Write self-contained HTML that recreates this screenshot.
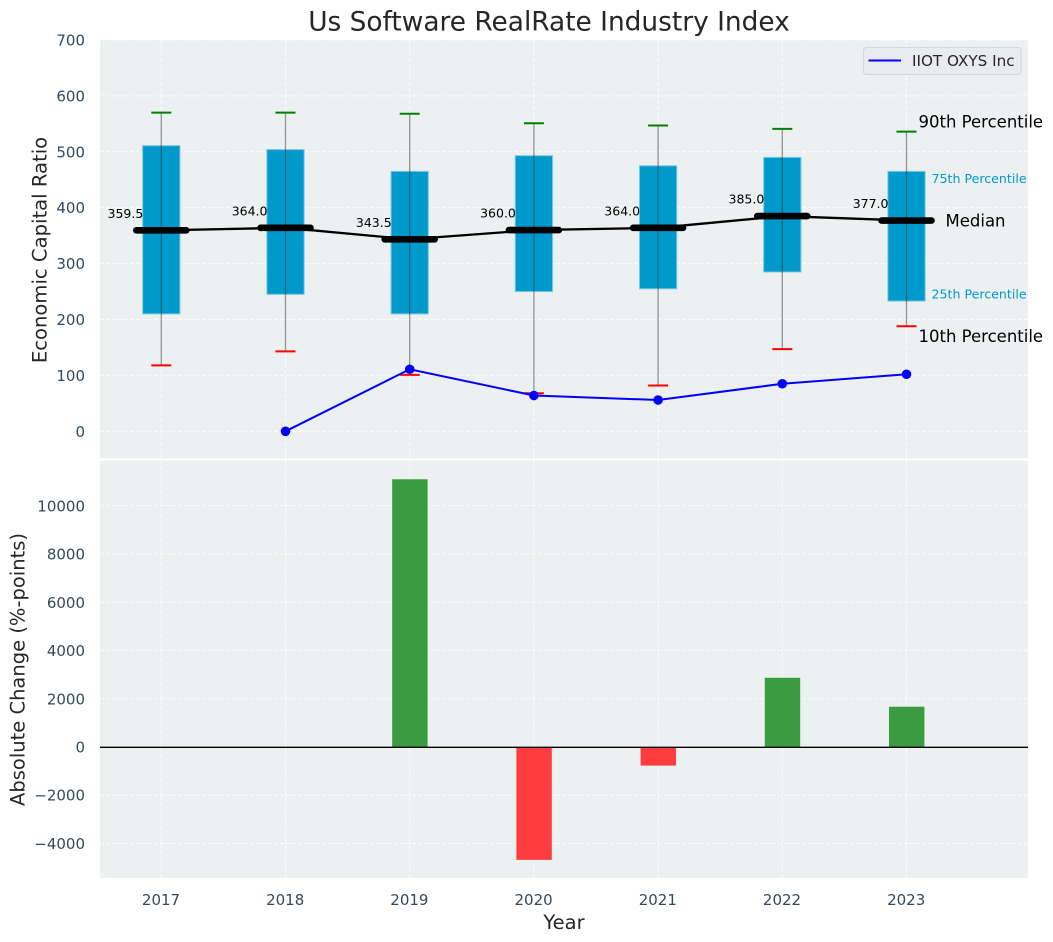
<!DOCTYPE html>
<html>
<head>
<meta charset="utf-8">
<title>Us Software RealRate Industry Index</title>
<style>
html,body{margin:0;padding:0;background:#fff;}
svg{display:block;font-family:"DejaVu Sans","Liberation Sans",sans-serif;}
</style>
</head>
<body>
<svg id="chart" width="1053" height="942" viewBox="0 0 1053 942" xmlns="http://www.w3.org/2000/svg">
  <rect x="100" y="40" width="928" height="418.5" fill="#ecf0f1"/>
  <rect x="100" y="460.5" width="928" height="417.5" fill="#ecf0f1"/>
  <g id="grid"></g>
  <g id="marks"></g>
  <g id="labels"></g>
  <text x="549" y="30.5" text-anchor="middle" font-size="26.4" fill="#262626">Us Software RealRate Industry Index</text>
  <text transform="translate(46.5,250) rotate(-90)" text-anchor="middle" font-size="19.6" fill="#262626">Economic Capital Ratio</text>
  <text transform="translate(24.5,669.5) rotate(-90)" text-anchor="middle" font-size="19.5" fill="#262626">Absolute Change (%-points)</text>
  <text x="564" y="929" text-anchor="middle" font-size="19.5" fill="#262626">Year</text>
  <g>
    <rect x="863.5" y="47.5" width="157.5" height="27" rx="3" fill="#eaebf0" stroke="#d4d6dc" stroke-width="1"/>
    <line x1="868.5" x2="901" y1="60.5" y2="60.5" stroke="#0000ff" stroke-width="2"/>
    <text x="912" y="66" font-size="15.2" fill="#262626">IIOT OXYS Inc</text>
  </g>
</svg>
<script>
const years = [2017, 2018, 2019, 2020, 2021, 2022, 2023];
const p10 = [118, 143, 101, 68, 82, 147, 188];
const p25 = [210, 245, 210, 250, 255, 285, 233];
const medians = [359.5, 364.0, 343.5, 360.0, 364.0, 385.0, 377.0];
const p75 = [511, 504, 465, 493, 475, 490, 465];
const p90 = [570, 570, 568, 551, 547, 541, 536];
const companyValues = [null, 0, 111, 64, 56, 85, 102];
const changeValues = [null, null, 11100, -4680, -770, 2870, 1670];
const topTicks = [0, 100, 200, 300, 400, 500, 600, 700];
const bottomTicks = [-4000, -2000, 0, 2000, 4000, 6000, 8000, 10000];

const NS = 'http://www.w3.org/2000/svg';
const gridG = document.getElementById('grid');
const marksG = document.getElementById('marks');
const labelsG = document.getElementById('labels');

function xScale(year) { return 161.3 + (year - 2017) * 124.2; }
function yTop(v) { return 431.3 - v * 0.559; }
function yBottom(v) { return 747 - v * 0.02412; }

function make(tag, parent, attrs, text) {
  const node = document.createElementNS(NS, tag);
  for (const key in attrs) node.setAttribute(key, attrs[key]);
  if (text !== undefined) node.textContent = text;
  parent.appendChild(node);
  return node;
}
function formatTick(v) { return v < 0 ? '\u2212' + Math.abs(v) : String(v); }

/* grid lines and ticks */
years.forEach(function (year) {
  const x = xScale(year);
  let el = make('line', gridG, { x1: x, x2: x, y1: 40, y2: 458.5, stroke: '#ffffff', 'stroke-width': 1, 'stroke-dasharray': '4 2', opacity: 0.85 });
  
  
  el = make('line', gridG, { x1: x, x2: x, y1: 460.5, y2: 878, stroke: '#ffffff', 'stroke-width': 1, 'stroke-dasharray': '4 2', opacity: 0.85 });
  
  
  el = make('text', labelsG, { x: x - 0.3, y: 905, 'text-anchor': 'middle', 'font-size': 15, fill: '#34495e' }, String(year));
  
  
});
topTicks.forEach(function (v) {
  const y = yTop(v);
  let el = make('line', gridG, { x1: 100, x2: 1028, y1: y, y2: y, stroke: '#ffffff', 'stroke-width': 1, 'stroke-dasharray': '4 2', opacity: 0.85 });
  
  
  el = make('text', labelsG, { x: 85, y: y + 5.5, 'text-anchor': 'end', 'font-size': 15, fill: '#34495e' }, formatTick(v));
  
  
});
bottomTicks.forEach(function (v) {
  const y = yBottom(v);
  let el = make('line', gridG, { x1: 100, x2: 1028, y1: y, y2: y, stroke: '#ffffff', 'stroke-width': 1, 'stroke-dasharray': '4 2', opacity: 0.85 });
  
  
  el = make('text', labelsG, { x: 85, y: y + 5.5, 'text-anchor': 'end', 'font-size': 15, fill: '#34495e' }, formatTick(v));
  
  
});

/* boxes and whiskers */
const boxW = 0.3 * 124.2;
years.forEach(function (year, i) {
  const x = xScale(year);
  let el = make('rect', marksG, { x: x - boxW / 2, y: yTop(p75[i]), width: boxW, height: yTop(p25[i]) - yTop(p75[i]), fill: '#0099cc', stroke: '#7cc8e0', 'stroke-width': 1 });
  
  
  el = make('line', marksG, { x1: x, x2: x, y1: yTop(p90[i]), y2: yTop(p10[i]), stroke: '#333333', 'stroke-width': 1.3, opacity: 0.5 });
  
  
  el = make('line', marksG, { x1: x - 10, x2: x + 10, y1: yTop(p90[i]), y2: yTop(p90[i]), stroke: '#008000', 'stroke-width': 2 });
  
  
  el = make('line', marksG, { x1: x - 10, x2: x + 10, y1: yTop(p10[i]), y2: yTop(p10[i]), stroke: '#ff0000', 'stroke-width': 2 });
  
  
});

/* median trend line and thick median markers */
const medianPoints = years.map(function (year, i) { return xScale(year) + ',' + yTop(medians[i]); }).join(' ');
const medianLine = make('polyline', marksG, { points: medianPoints, fill: 'none', stroke: '#000000', 'stroke-width': 2.3 });


years.forEach(function (year, i) {
  const x = xScale(year);
  const y = yTop(medians[i]);
  let el = make('line', marksG, { x1: x - 25, x2: x + 25, y1: y, y2: y, stroke: '#000000', 'stroke-width': 6.6, 'stroke-linecap': 'round' });
  
  
  el = make('text', labelsG, { x: x - 18, y: y - 12.5, 'text-anchor': 'end', 'font-size': 12.5, fill: '#000000' }, medians[i].toFixed(1));
  
  
});

/* company series */
const companyPoints = [];
years.forEach(function (year, i) {
  if (companyValues[i] !== null) companyPoints.push(xScale(year) + ',' + yTop(companyValues[i]));
});
const companyLine = make('polyline', marksG, { points: companyPoints.join(' '), fill: 'none', stroke: '#0000ff', 'stroke-width': 2 });


years.forEach(function (year, i) {
  if (companyValues[i] === null) return;
  const dot = make('circle', marksG, { cx: xScale(year), cy: yTop(companyValues[i]), r: 4.8, fill: '#0000ff' });
  
  
});

/* change bars */
const barW = 0.285 * 124.2;
years.forEach(function (year, i) {
  const v = changeValues[i];
  if (v === null) return;
  const top = Math.min(yBottom(v), yBottom(0));
  const bar = make('rect', marksG, { x: xScale(year) - barW / 2 + 0.2, y: top, width: barW, height: Math.abs(yBottom(v) - yBottom(0)), fill: v >= 0 ? '#3a9c3e' : '#ff3c3e' });
  
  
});
const zeroLine = make('line', marksG, { x1: 100, x2: 1028, y1: yBottom(0) + 0.3, y2: yBottom(0) + 0.3, stroke: '#000000', 'stroke-width': 1.4 });



/* annotations for the last year */
const last = years.length - 1;
const lastX = xScale(years[last]);
let note = make('text', labelsG, { x: lastX + 12, y: yTop(p90[last]) - 4, 'font-size': 16.5, fill: '#000000' }, '90th Percentile');


note = make('text', labelsG, { x: lastX + 25, y: yTop(p75[last]) + 11.5, 'font-size': 12.6, fill: '#0099cc' }, '75th Percentile');


note = make('text', labelsG, { x: lastX + 39, y: yTop(medians[last]) + 6, 'font-size': 16.5, fill: '#000000' }, 'Median');


note = make('text', labelsG, { x: lastX + 25, y: yTop(p25[last]) - 2.5, 'font-size': 12.6, fill: '#0099cc' }, '25th Percentile');


note = make('text', labelsG, { x: lastX + 12, y: yTop(p10[last]) + 16, 'font-size': 16.5, fill: '#000000' }, '10th Percentile');


</script>
</body>
</html>
